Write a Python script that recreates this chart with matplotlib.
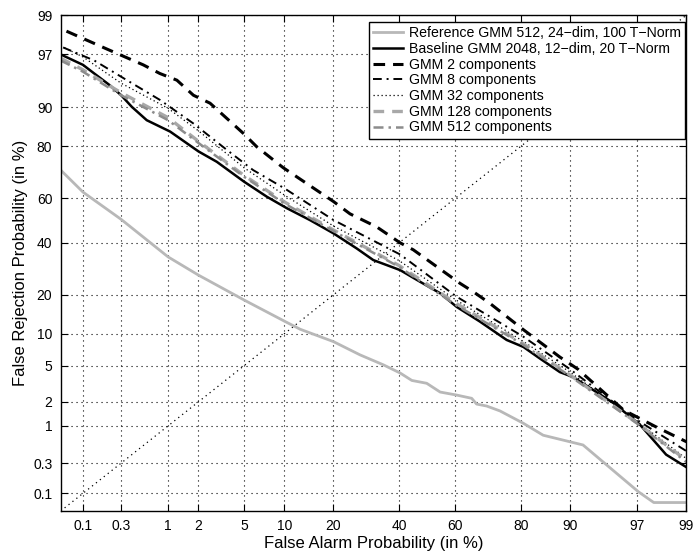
import matplotlib
matplotlib.use("Agg")
import matplotlib.pyplot as plt
from statistics import NormalDist

plt.rcParams["font.family"] = ["Liberation Sans", "DejaVu Sans"]

# ── Data (percent values) ────────────────────────────────────────────────────
TICKS = [0.1, 0.3, 1, 2, 5, 10, 20, 40, 60, 80, 90, 97, 99]
TICK_LABELS = ["0.1", "0.3", "1", "2", "5", "10", "20", "40", "60", "80", "90", "97", "99"]

ref_fa = [0.05, 0.1, 0.3, 1, 2, 5, 10, 12.7, 20, 27.3, 34.7, 40.4, 44.5, 49.8, 54.6,
          60.4, 65.5, 67.1, 70.3, 74.3, 80.6, 85.1, 91.9, 97.1, 97.9, 99]
ref_fr = [71.6, 62.6, 50.5, 34, 26.8, 18.4, 12.7, 10.9, 8.5, 6.4, 5.1, 4.2, 3.5, 3.26, 2.6,
          2.4, 2.2, 1.88, 1.78, 1.55, 1.08, 0.75, 0.55, 0.106, 0.07, 0.07]

base_fa = [0.05, 0.1, 0.14, 0.22, 0.3, 0.4, 0.59, 1.05, 2, 2.94, 5, 7.5, 10.4, 14.6, 20,
           26.3, 31.4, 40.4, 47.4, 54.6, 60.4, 68.2, 76.2, 80.6, 84.4, 88.3, 90.5, 95.3,
           97.2, 98.4, 99]
base_fr = [97.0, 96.1, 95.2, 93.7, 92.2, 90.1, 87.2, 84.3, 78.3, 74.7, 67.0, 60.6, 55.5,
           50.2, 44.2, 37.6, 32.7, 28.7, 24.4, 20.5, 16.4, 12.6, 8.8, 7.6, 5.9, 4.3, 3.8,
           1.92, 1.03, 0.40, 0.26]

g2_fa = [0.06, 0.2, 0.54, 0.82, 1.23, 1.79, 2.56, 4.94, 6.3, 9.8, 20, 24.4, 32.5, 40.4, 45,
         61.6, 66, 71.3, 80.6, 88.3, 91.2, 96.1, 98, 99]
g2_fr = [98.4, 97.4, 96.1, 95.2, 94.4, 92.2, 90.8, 83.8, 79.8, 72.5, 58.5, 53, 47.1, 40,
         37, 23.8, 21, 17.4, 10.8, 6.1, 4.6, 1.59, 0.97, 0.61]

g8_fa = [0.054, 0.14, 0.35, 0.82, 1.79, 3.6, 5.9, 10, 20, 40.4, 60.4, 80.6, 90, 97, 99]
g8_fr = [97.5, 96.5, 94.4, 91.4, 86.4, 78.8, 71.6, 64.2, 50.2, 35, 19.4, 9.4, 4.6, 1.2, 0.45]

gx_fa = [0.05, 0.1, 0.3, 1, 2, 5, 10, 20, 40, 60, 80, 90, 97, 99]
g32_fr = [97.6, 96.8, 94.0, 89.8, 84.5, 72.5, 61.3, 47.5, 32.5, 18.5, 8.8, 4.3, 1.15, 0.35]
g128_fr = [96.7, 95.6, 92.6, 87.8, 81.5, 69.5, 58.3, 45.7, 30.5, 17.5, 8.4, 4.0, 1.1, 0.33]
g512_fr = [96.5, 95.4, 92.2, 87.2, 81.0, 69.0, 57.6, 45.2, 30.0, 17.0, 8.2, 3.9, 1.08, 0.31]

LIMITS = [0.05, 99]


def probit(vals):
    nd = NormalDist()
    return [nd.inv_cdf(v / 100.0) for v in vals]


# ── Figure ───────────────────────────────────────────────────────────────────
fig = plt.figure(figsize=(6.96, 5.53), dpi=100)
ax = fig.add_axes([60.7 / 696, 1 - 511 / 553, 625.7 / 696, 495.9 / 553])

ax.plot(probit(ref_fa), probit(ref_fr), color="#b8b8b8", lw=2.0,
        label="Reference GMM 512, 24\u2212dim, 100 T\u2212Norm")
ax.plot(probit(base_fa), probit(base_fr), color="black", lw=1.8,
        label="Baseline GMM 2048, 12\u2212dim, 20 T\u2212Norm")
ax.plot(probit(g2_fa), probit(g2_fr), color="black", lw=2.2, linestyle=(0, (3.8, 2.6)),
        label="GMM 2 components")
ax.plot(probit(g8_fa), probit(g8_fr), color="black", lw=1.4,
        linestyle=(0, (4.5, 2.5, 1, 2.5)), label="GMM 8 components")
ax.plot(probit(gx_fa), probit(g32_fr), color="black", lw=0.9, linestyle=(0, (1, 2.2)),
        label="GMM 32 components")
ax.plot(probit(gx_fa), probit(g128_fr), color="#a8a8a8", lw=2.4, linestyle=(0, (3.2, 2.4)),
        label="GMM 128 components")
ax.plot(probit(gx_fa), probit(g512_fr), color="#8c8c8c", lw=1.8,
        linestyle=(0, (4, 2, 1, 2)), label="GMM 512 components")

# equal error diagonal
lim = probit(LIMITS)
ax.plot(lim, lim, color="black", lw=0.9, linestyle=(0, (1, 3)), zorder=1)

ax.set_xlim(lim)
ax.set_ylim(lim)
ax.set_xticks(probit(TICKS))
ax.set_xticklabels(TICK_LABELS, fontsize=10)
ax.set_yticks(probit(TICKS))
ax.set_yticklabels(TICK_LABELS, fontsize=10)
ax.tick_params(direction="in", length=5, top=True, right=True, width=0.8, pad=6)
ax.grid(True, color="black", linestyle=(0, (1, 3.5)), linewidth=0.8)
for s in ax.spines.values():
    s.set_linewidth(1.0)

ax.set_xlabel("False Alarm Probability (in %)", fontsize=12, labelpad=2)
ax.set_ylabel("False Rejection Probability (in %)", fontsize=12, labelpad=4)

leg = ax.legend(loc="upper right", bbox_to_anchor=(0.9975, 0.986), borderaxespad=0,
                fontsize=10.2, fancybox=False, framealpha=1, edgecolor="black",
                handlelength=2.1, handletextpad=0.4, labelspacing=0.12,
                borderpad=0.3)
leg.get_frame().set_linewidth(1.0)

plt.savefig("out.png", dpi=100)
plt.close()
